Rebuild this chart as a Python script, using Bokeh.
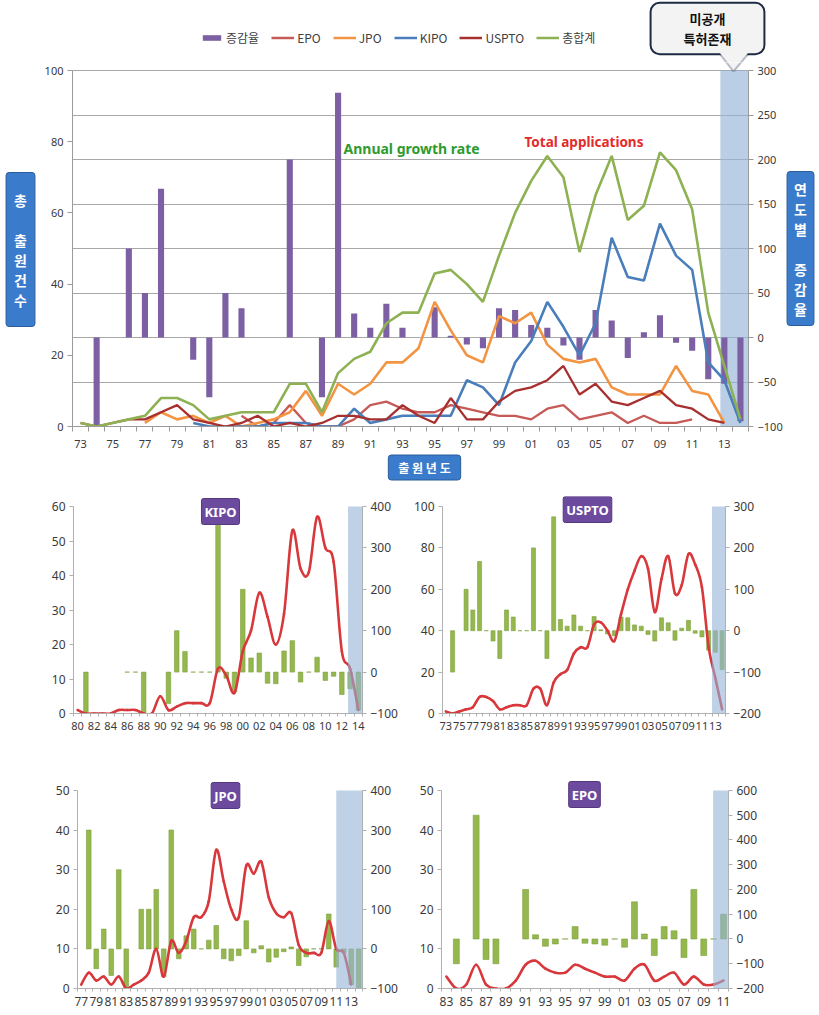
import numpy as np
from bokeh.plotting import figure
from bokeh.models import (Range1d, LinearAxis, FixedTicker, BoxAnnotation, Label, Legend,
                          LegendItem, PolyAnnotation, ColumnDataSource, Grid)
from bokeh.layouts import column, row
from bokeh.embed import file_html
from bokeh.resources import INLINE

N = None
FONT = "Noto Sans"
KFONT = "Noto Sans CJK KR"

# ---------------- data ----------------
years_main = list(range(1973, 2015))          # 73 .. 14
total = [1, 0, 1, 2, 3, 8, 8, 6, 2, 3, 4, 4, 4, 12, 12, 4, 15, 19, 21, 29, 32, 32, 43, 44, 40, 35,
         48, 60, 69, 76, 70, 49, 65, 76, 58, 62, 77, 72, 61, 32, 17, 2]
growth = [N, -100, N, 100, 50, 167, 0, -25, -67, 50, 33, 0, 0, 200, 0, -67, 275, 27, 11, 38, 11, 0,
          34, 2, -8, -12, 33, 31, 14, 11, -9, -25, 31, 19, -23, 6, 25, -6, -15, -47, -52, -94]
uspto = [1, 0, 1, 2, 2, 4, 6, 2, 1, 0, 1, 3, 0, 1, 0, 1, 3, 3, 2, 2, 6, 3, 1, 8, 2, 2, 7, 10, 11,
         13, 17, 9, 12, 7, 6, 8, 10, 6, 5, 2, 1, N]

years_epo = list(range(1983, 2012))           # 83 .. 11
epo = [3, 0, 1, 6, 1, 0, 0, 2, 6, 7, 5, 4, 4, 6, 5, 4, 3, 3, 2, 5, 6, 2, 3, 4, 1, 3, 1, 1, 2]
epo_rate = [N, -100, N, 500, -83, -100, N, N, 200, 17, -29, -20, 0, 50, -17, -20, -25, 0, -33,
            150, 20, -67, 50, 33, -75, 200, -67, 0, 100]

years_jpo = list(range(1977, 2015))           # 77 .. 14
jpo = [1, 4, 2, 3, 1, 3, 0, 1, 2, 4, 10, 3, 12, 9, 12, 18, 18, 22, 35, 27, 20, 18, 31, 29, 32, 23,
       19, 18, 19, 11, 9, 9, 9, 17, 10, 9, 1, N]
jpo_rate = [N, 300, -50, 50, -67, 200, -100, N, 100, 100, 150, -70, 300, -25, 33, 50, 0, 22, 59,
            -25, -30, -17, 71, -10, 8, -33, -21, -7, 5, -42, -20, 0, 0, 88, -46, -10, -90, -100]

years_kipo = list(range(1980, 2015))          # 80 .. 14
kipo = [1, 0, 0, 0, 0, 1, 1, 1, 0, 0, 5, 1, 2, 3, 3, 3, 3, 13, 11, 6, 18, 24, 35, 28, 20, 29, 53,
        42, 41, 57, 48, 44, 18, 13, 1]
kipo_rate = [N, -100, N, N, N, N, 0, 0, -100, N, N, -76, 100, 50, 0, 0, 0, 355, -15, -48, 200, 34,
             46, -27, -28, 51, 76, -24, 0, 36, -20, -10, -54, -40, -92]

series_names = ["증감율", "EPO", "JPO", "KIPO", "USPTO", "총합계"]

C_BAR = "#7D60A3"
C_EPO = "#C55A57"
C_JPO = "#F39443"
C_KIPO = "#4A7EBB"
C_USPTO = "#A7302F"
C_TOT = "#8DB153"
C_SHADE = "#95B3D7"
C_BOX = "#3A7BCB"
C_BOXL = "#2A5C9C"
C_CALL = "#1E2B45"
C_CALLBG = "#F3F3F3"


def yy(y):
    return f"{y % 100:02d}"


def align(vals, years):
    """place a series on the main 73..14 category axis"""
    out = [N] * len(years_main)
    for y, v in zip(years, vals):
        out[years_main.index(y)] = v
    return np.array(out, dtype=float)


def style_axis(ax, size="11px"):
    ax.axis_line_color = "#9A9A9A"
    ax.major_tick_line_color = "#9A9A9A"
    ax.minor_tick_line_color = "#9A9A9A"
    ax.major_label_text_font = FONT
    ax.major_label_text_font_size = size
    ax.major_label_text_color = "#3A3A3A"
    ax.major_tick_in = 0
    ax.minor_tick_in = 0


def box_label(p, x, y, text, size, color, bg, border, pad, font=KFONT, lh=1.2, radius=3, bw=1):
    lbl = Label(x=x, y=y, x_units="screen", y_units="screen", text=text,
                text_align="center", text_baseline="middle",
                text_font=font, text_font_size=size, text_font_style="bold",
                text_color=color, text_line_height=lh,
                background_fill_color=bg, border_line_color=border, border_line_width=bw,
                padding=pad, border_radius=radius)
    p.add_layout(lbl)
    return lbl


def deco_fig(w, h):
    p = figure(width=w, height=h, x_range=Range1d(0, w), y_range=Range1d(0, h),
               x_axis_type=None, y_axis_type=None, output_backend="svg",
               toolbar_location=None, min_border=0, title=None)
    p.outline_line_color = None
    return p


def pointer(p, X, Y):
    """callout pointer (white wedge + two dark edges); X, Y map page px to the frame"""
    p.add_layout(PolyAnnotation(xs=[X(718), X(749), X(733)], ys=[Y(51), Y(51), Y(71)],
                                xs_units="screen", ys_units="screen",
                                fill_color=C_CALLBG, fill_alpha=1, line_alpha=0))
    for xe in (719, 748):
        p.add_layout(PolyAnnotation(xs=[X(xe), X(733)], ys=[Y(53), Y(71)],
                                    xs_units="screen", ys_units="screen",
                                    fill_alpha=0, line_color=C_CALL, line_width=2))


# ---------------- top band: legend + callout ----------------
BAND_H = 62
top_band = deco_fig(817, BAND_H)
nan1 = [float("nan")]          # legend-only renderers: one invisible (NaN) row
lg_r = [top_band.vbar(x=nan1, top=nan1, width=1, fill_color=C_BAR, line_color=None)]
for c in (C_EPO, C_JPO, C_KIPO, C_USPTO, C_TOT):
    lg_r.append(top_band.line(x=nan1, y=nan1, line_color=c, line_width=2.5))
top_band.add_layout(Legend(items=[LegendItem(label=n, renderers=[r]) for n, r in
                                  zip(series_names, lg_r)],
                           orientation="horizontal", location=(200, BAND_H - 46),
                           background_fill_alpha=0, border_line_color=None,
                           label_text_font=KFONT, label_text_font_size="12px",
                           label_text_color="#404040",
                           glyph_width=23, glyph_height=7, spacing=12, label_standoff=3,
                           padding=0, margin=0))
box_label(top_band, 707, BAND_H - 28, "미공개\n특허존재", "13px", "#111111", C_CALLBG, C_CALL,
          dict(x=33, y=6), lh=1.07, radius=9, bw=2)
pointer(top_band, lambda v: v, lambda v: BAND_H - v)

# ---------------- main chart ----------------
TOP_PAD = 8       # free frame space above the 100 / 300 line
PLOT_H = 356      # height of the 0..100 span
FL, FB = 72, 426  # frame left / bottom in page px (for screen-unit helpers)


def fx(px):
    return px - FL


def fy(py):
    return FB - py


nm = len(years_main)
pm = figure(width=745, height=390, x_range=Range1d(-0.5, nm - 0.5),
            y_range=Range1d(0, 100 + 100 * TOP_PAD / PLOT_H),
            output_backend="svg", toolbar_location=None, title=None,
            min_border_left=32, min_border_right=37, min_border_top=0, min_border_bottom=26)
pm.outline_line_color = None
pm.xgrid.visible = False
pm.ygrid.visible = False
pm.extra_y_ranges = {"rate": Range1d(-100, 300 + 400 * TOP_PAD / PLOT_H)}

ra = LinearAxis(y_range_name="rate", ticker=FixedTicker(ticks=list(range(-100, 301, 50))),
                bounds=(-100, 300))
pm.add_layout(ra, "right")
pm.add_layout(Grid(dimension=1, ticker=ra.ticker, y_range_name="rate",
                   grid_line_color="#A8A8A8", grid_line_width=1))

la = pm.yaxis[0]
la.ticker = FixedTicker(ticks=[0, 20, 40, 60, 80, 100])
la.bounds = (0, 100)
for ax in (la, ra):
    style_axis(ax)
    ax.major_tick_out = 5
    ax.major_label_standoff = 4
xa = pm.xaxis[0]
style_axis(xa)
xa.ticker = FixedTicker(ticks=list(range(0, nm, 2)), minor_ticks=[i - 0.5 for i in range(nm + 1)])
xa.major_label_overrides = {i: yy(years_main[i]) for i in range(0, nm, 2)}
xa.major_tick_out = 0
xa.minor_tick_out = 5
xa.major_label_standoff = 8

pm.add_layout(BoxAnnotation(left=years_main.index(2013) - 0.25, top=100, fill_color=C_SHADE,
                            fill_alpha=0.65, line_alpha=0, level="underlay"))

xs = list(range(nm))
bx = [i for i, g in enumerate(growth) if g is not None]
bt = [g for g in growth if g is not None]
pm.vbar(x=bx, top=bt, bottom=0, width=0.38, y_range_name="rate", fill_color=C_BAR, line_color=None)
pm.line(xs, align(epo, years_epo), line_color=C_EPO, line_width=2.3)
pm.line(xs, align(jpo, years_jpo), line_color=C_JPO, line_width=2.6)
pm.line(xs, align(kipo, years_kipo), line_color=C_KIPO, line_width=2.6)
pm.line(xs, np.array(uspto, dtype=float), line_color=C_USPTO, line_width=2.3)
pm.line(xs, np.array(total, dtype=float), line_color=C_TOT, line_width=2.6)

pm.add_layout(Label(x=fx(343), y=fy(148), x_units="screen", y_units="screen",
                    text="Annual  growth  rate", text_baseline="middle",
                    text_font=FONT, text_font_size="14px", text_font_style="bold",
                    text_color="#2E9B2E"))
pm.add_layout(Label(x=fx(524), y=fy(141), x_units="screen", y_units="screen",
                    text="Total applications", text_baseline="middle",
                    text_font=FONT, text_font_size="13.5px", text_font_style="bold",
                    text_color="#E42B2B"))
pointer(pm, fx, fy)   # the tip of the callout reaching into the plot

# side boxes (strips share the main chart's frame rows: frame bottom = page y 426)
left_strip = deco_fig(40, 390)
box_label(left_strip, 20, FB - 249, "총\n\n출\n원\n건\n수", "14px", "white", C_BOX, C_BOXL,
          dict(x=8, y=17), lh=1.0)
right_strip = deco_fig(32, 390)
box_label(right_strip, 15, FB - 248, "연\n도\n별\n\n증\n감\n율", "14px", "white", C_BOX, C_BOXL,
          dict(x=7, y=7), lh=1.0)
bottom_band = deco_fig(817, 36)
box_label(bottom_band, 424, 36 - 15, "출 원 년 도", "12px", "white", C_BOX, C_BOXL,
          dict(x=10, y=4))


# ---------------- small charts ----------------
def smooth(vals):
    pts = [(i, v) for i, v in enumerate(vals) if v is not None]
    n = len(pts)
    d = {k: [] for k in ("x0", "y0", "x1", "y1", "cx0", "cy0", "cx1", "cy1")}
    for k in range(n - 1):
        xa_, ya_ = pts[k - 1] if k > 0 else pts[k]
        xb_, yb_ = pts[k]
        xc_, yc_ = pts[k + 1]
        xd_, yd_ = pts[k + 2] if k + 2 < n else pts[k + 1]
        d["x0"].append(xb_); d["y0"].append(yb_)
        d["x1"].append(xc_); d["y1"].append(yc_)
        d["cx0"].append(xb_ + (xc_ - xa_) / 6); d["cy0"].append(yb_ + (yc_ - ya_) / 6)
        d["cx1"].append(xc_ - (xd_ - xb_) / 6); d["cy1"].append(yc_ - (yd_ - yb_) / 6)
    return ColumnDataSource(d)


SUB_PAD = 10   # free frame space above the top tick (room for the title tag)


def make_sub(title, years, line_vals, bar_vals, lr, lt, rr, rt, shade_left, w, h, bl, br, btop, bb,
             plot_h, tpos, bar_w, lsize="11px"):
    n = len(years)
    ext = SUB_PAD / plot_h
    p = figure(width=w, height=h, x_range=Range1d(-0.5, n - 0.5),
               y_range=Range1d(lr[0], lr[1] + (lr[1] - lr[0]) * ext),
               output_backend="svg", toolbar_location=None, title=None,
               min_border_left=bl, min_border_right=br, min_border_top=btop, min_border_bottom=bb)
    p.outline_line_color = None
    p.xgrid.visible = False
    p.ygrid.visible = False
    p.extra_y_ranges = {"rate": Range1d(rr[0], rr[1] + (rr[1] - rr[0]) * ext)}
    rax = LinearAxis(y_range_name="rate", ticker=FixedTicker(ticks=rt), bounds=rr)
    p.add_layout(rax, "right")
    lax = p.yaxis[0]
    lax.ticker = FixedTicker(ticks=lt)
    lax.bounds = lr
    for ax in (lax, rax):
        style_axis(ax, "12px")
        ax.major_tick_out = 4
        ax.major_label_standoff = 4
        ax.axis_line_color = "#B0B0B0"
        ax.major_tick_line_color = "#B0B0B0"
    xax = p.xaxis[0]
    style_axis(xax, lsize)
    xax.axis_line_color = "#B0B0B0"
    xax.minor_tick_line_color = "#B0B0B0"
    xax.ticker = FixedTicker(ticks=list(range(0, n, 2)), minor_ticks=[i - 0.5 for i in range(n + 1)])
    xax.major_label_overrides = {i: yy(years[i]) for i in range(0, n, 2)}
    xax.major_tick_out = 0
    xax.minor_tick_out = 3
    xax.major_label_standoff = 5

    bxs = [i for i, v in enumerate(bar_vals) if v is not None]
    bts = [v for v in bar_vals if v is not None]
    p.vbar(x=bxs, top=bts, bottom=0, width=bar_w, y_range_name="rate",
           fill_color="#95B84E", line_color="#7E9F3C", line_width=0.6)
    p.bezier(x0="x0", y0="y0", x1="x1", y1="y1", cx0="cx0", cy0="cy0", cx1="cx1", cy1="cy1",
             source=smooth(line_vals), line_color="#D8383B", line_width=2.6, line_cap="round")
    p.add_layout(BoxAnnotation(left=shade_left, top=lr[1], fill_color=C_SHADE, fill_alpha=0.6,
                               line_alpha=0))
    box_label(p, tpos[0], tpos[1], title, "13px", "white", "#6C4A9E", "#55397F",
              dict(x=3, y=4), font=FONT, radius=2)
    return p


# KIPO: frame x 73..362, y 496..713 ; USPTO: frame x 442..725, same rows
p_kipo = make_sub("KIPO", years_kipo, kipo, kipo_rate, (0, 60), list(range(0, 61, 10)),
                  (-100, 400), list(range(-100, 401, 100)), years_kipo.index(2013) - 0.25,
                  400, 277, 73, 38, 8, 52, 207, (147, 713 - 511), 0.55)
p_us = make_sub("USPTO", years_main, total, growth, (0, 100), list(range(0, 101, 20)),
                (-200, 300), list(range(-200, 301, 100)), years_main.index(2013) - 0.5,
                417, 277, 42, 92, 8, 52, 207, (145, 713 - 509), 0.6, lsize="11px")
# JPO: frame x 77..364, y 780..989 ; EPO: frame x 441..728, y 779..988
p_jpo = make_sub("JPO", years_jpo, jpo, jpo_rate, (0, 50), list(range(0, 51, 10)),
                 (-100, 400), list(range(-100, 401, 100)), years_jpo.index(2011),
                 400, 248, 77, 36, 15, 24, 199, (148, 989 - 796), 0.62, lsize="12px")
p_epo = make_sub("EPO", years_epo, epo, epo_rate, (0, 50), list(range(0, 51, 10)),
                 (-200, 600), list(range(-200, 601, 100)), years_epo.index(2010) - 0.05,
                 417, 248, 41, 89, 14, 25, 199, (143, 988 - 794), 0.6, lsize="12px")

layout = column(top_band, row(left_strip, pm, right_strip), bottom_band,
                row(p_kipo, p_us), row(p_jpo, p_epo))
open("out.html", "w").write(file_html(layout, INLINE))
